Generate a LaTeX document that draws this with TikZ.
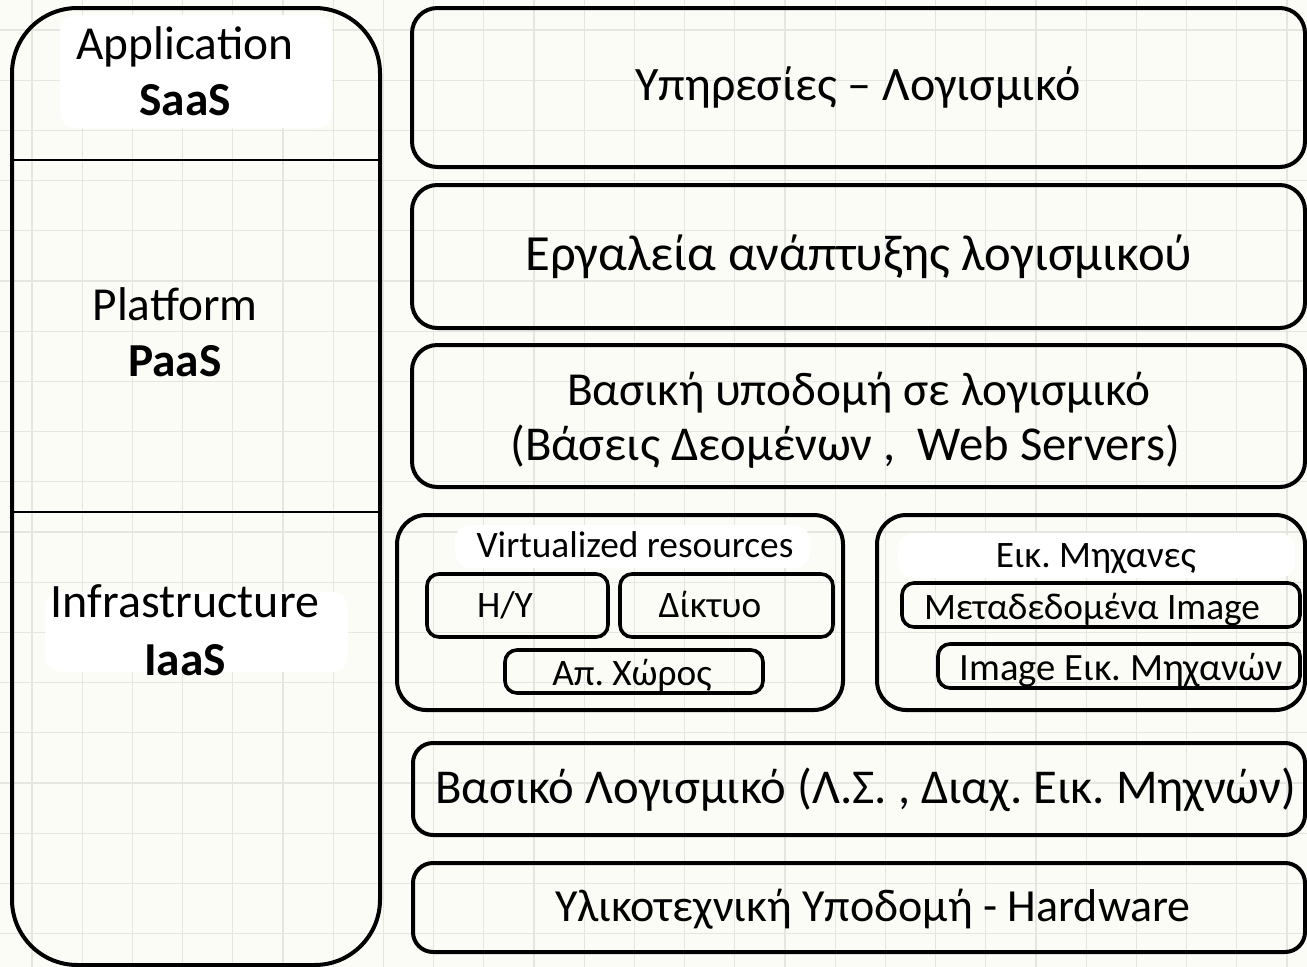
\documentclass[tikz,border=0pt]{standalone}
\usepackage{fontspec}
\setmainfont{Carlito}
\usetikzlibrary{fit}
\frenchspacing
\definecolor{bgcol}{HTML}{FCFCF7}
\definecolor{gridcol}{HTML}{E6E6E0}
\tikzset{
  bigbox/.style={draw=black, line width=3pt, inner sep=0pt, rounded corners=#1},
  thinbox/.style={draw=black, line width=2.7pt, inner sep=0pt, rounded corners=9pt},
  bigtxt/.style={anchor=base, inner sep=0pt, font=\fontsize{#1}{40}\selectfont},
  bigtxt/.default=35.5,
  boldtxt/.style={anchor=base, inner sep=0pt, font=\fontsize{35.5}{40}\selectfont\bfseries},
  smalltxt/.style={anchor=base, inner sep=0pt, font=\fontsize{#1}{32}\selectfont},
  smalltxt/.default=28,
  patch/.style={fill=white, draw=none, rounded corners=12pt, inner sep=0pt},
  divider/.style={draw=black, line width=1.2pt}
}
\begin{document}
\begin{tikzpicture}[x=0.75pt, y=-0.75pt]
\fill[bgcol] (0,0) rectangle (1307,967);
\useasboundingbox (0,0) rectangle (1307,967);
% grid
\foreach \i in {0,...,25} {
  \draw[gridcol, line width=1pt] ({32+50.2*\i},0) -- ({32+50.2*\i},967);
}
\foreach \j in {0,...,19} {
  \draw[gridcol, line width=1pt] (0,{30+50.2*\j}) -- (1307,{30+50.2*\j});
}
% white patches behind labels
\node[patch, fit={(60,15) (332,128)}] (pa) {};
\node[patch, fit={(45,592) (348,672)}] (pi) {};
\node[patch, fit={(455,525) (810,568)}] (pv) {};
\node[patch, fit={(898,533) (1295,578)}] (pe) {};

% left column
\node[bigbox=49pt, fit={(12,8) (380,965)}] (left) {};
\coordinate (d1l) at (12,160);
\coordinate (d1r) at (380,160);
\coordinate (d2l) at (12,512);
\coordinate (d2r) at (380,512);
\draw[divider] (d1l) -- (d1r);
\draw[divider] (d2l) -- (d2r);
\node[bigtxt] (app) at (185,59) {Application};
\node[boldtxt] (saas) at (185,115) {SaaS};
\node[bigtxt] (plat) at (175,320) {Platform};
\node[boldtxt] (paas) at (175,376) {PaaS};
\node[bigtxt=36] (infra) at (185,617) {Infrastructure};
\node[boldtxt] (iaas) at (185,675) {IaaS};

% right column layers
\node[bigbox=19pt, fit={(412,8) (1305,167)}] (b1) {};
\node[bigbox=19pt, fit={(412,185) (1305,328)}] (b2) {};
\node[bigbox=19pt, fit={(412,345) (1305,487)}] (b3) {};
\node[bigbox=22pt, fit={(397,515) (843,710)}] (bv) {};
\node[bigbox=22pt, fit={(877,515) (1305,710)}] (be) {};
\node[bigbox=15pt, fit={(413,743) (1305,835)}] (b5) {};
\node[bigbox=15pt, fit={(413,863) (1305,952)}] (b6) {};

\node[bigtxt=36] (t1) at (858,100) {Υπηρεσίες – Λογισμικό};
\node[bigtxt=38] (t2) at (859,270) {Εργαλεία ανάπτυξης λογισμικού};
\node[bigtxt=35.5] (t3a) at (859,405) {Βασική υποδομή σε λογισμικό};
\node[bigtxt=36.5] (t3b) at (845,460) {(Βάσεις Δεομένων ,\ \ Web Servers)};
\node[bigtxt=36.5] (t5) at (866,803) {Βασικό Λογισμικό (Λ.Σ. , Διαχ. Εικ. Μηχνών)};
\node[bigtxt=34.5] (t6) at (873,921) {Υλικοτεχνική Υποδομή - Hardware};

% virtualized resources
\node[thinbox, fit={(427,574) (608,637)}] (hy) {};
\node[thinbox, fit={(620,574) (833,637)}] (net) {};
\node[thinbox, fit={(505,650) (763,693)}] (st) {};
\node[smalltxt] (tv) at (635,557) {Virtualized resources};
\node[smalltxt] (thy) at (505,617) {Η/Υ};
\node[smalltxt] (tnet) at (710,617) {Δίκτυο};
\node[smalltxt] (tst) at (632,685) {Απ. Χώρος};

% virtual machines
\node[thinbox, fit={(902,583) (1300,627)}] (meta) {};
\node[thinbox, fit={(938,644) (1300,688)}] (img) {};
\node[smalltxt] (te) at (1096,567) {Εικ. Μηχανες};
\node[smalltxt] (tmeta) at (1092,619) {Μεταδεδομένα Image};
\node[smalltxt=29] (timg) at (1121,680) {Image Εικ. Μηχανών};
\end{tikzpicture}
\end{document}
